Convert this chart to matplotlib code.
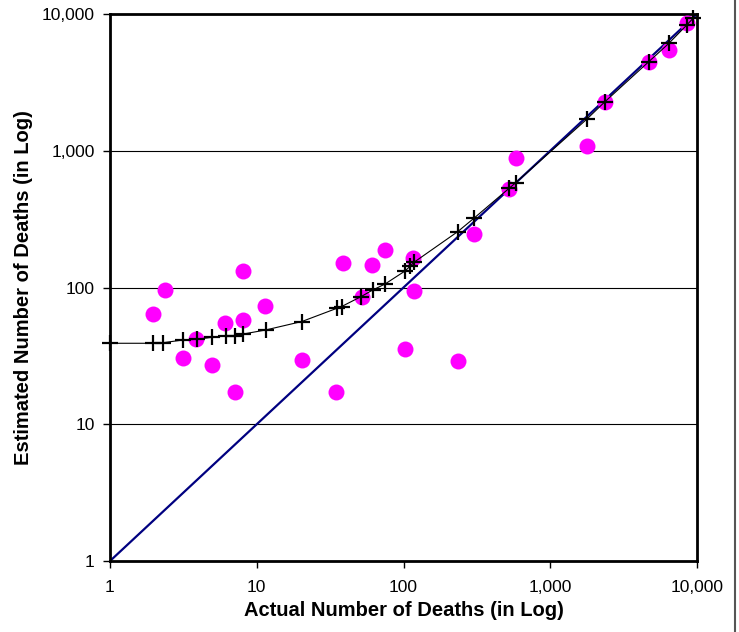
import matplotlib
matplotlib.use("Agg")
import matplotlib.pyplot as plt
from matplotlib.ticker import FixedLocator, FuncFormatter, NullLocator
from matplotlib.lines import Line2D

plt.rcParams['font.family'] = ['Liberation Sans', 'DejaVu Sans']

# actual vs estimated deaths (magenta dots)
actual = [1.95, 2.37, 3.14, 3.85, 4.93, 6.08, 7.1, 8.06, 8.03, 11.4,
          20.3, 34.9, 38.5, 51.9, 60.8, 74.7, 115.5, 118.6, 102, 234,
          302, 524, 582, 1771, 2360, 4690, 6440, 8510]
estimated = [63.7, 96, 30.5, 41.8, 27.1, 55, 17.2, 57.9, 133, 73.2,
             29.7, 17.2, 151, 84.6, 146, 188, 163, 94.8, 35.5, 29.1,
             246, 527, 881, 1090, 2285, 4480, 5470, 8540]

# fitted curve (black crosses)
fit_x = [1, 1.97, 2.31, 3.13, 3.9, 4.93, 6.17, 7.1, 8.1, 11.5,
         20.3, 35.1, 37.9, 51.3, 61.7, 74.8, 102.4, 111.6, 118, 234,
         302, 524, 582, 1771, 2360, 4690, 6440, 8510, 9400]
fit_y = [39.1, 39.1, 39.5, 41.3, 41.8, 43.2, 44.2, 44.2, 45.7, 48.9,
         56.4, 70.4, 72.6, 85.7, 95.9, 106, 132, 144, 153, 256,
         321, 531, 584, 1698, 2285, 4477, 6110, 8300, 9300]

# perfect-estimate reference line
ref = [1, 10000]

fig = plt.figure(figsize=(7.39, 6.32), dpi=100)
ax = fig.add_axes([110/739, 71/632, 587/739, 547/632])

ax.set_xscale('log')
ax.set_yscale('log')
ax.set_xlim(1, 10000)
ax.set_ylim(1, 10000)

for v in [10, 100, 1000]:
    ax.axhline(v, color='black', lw=0.8, zorder=1)

ax.plot(ref, ref, color='#000080', lw=1.6, zorder=2)
ax.plot(actual, estimated, 'o', color='#FF00FF', ms=11.5, mec='none', zorder=3)
ax.plot(fit_x, fit_y, '-', color='black', lw=0.8, zorder=4)
ax.plot(fit_x, fit_y, '+', color='black', ms=11, mew=1.6, zorder=5, clip_on=False)

decades = [1, 10, 100, 1000, 10000]
fmt = FuncFormatter(lambda v, p: f'{int(round(v)):,}')
for axis in (ax.xaxis, ax.yaxis):
    axis.set_major_locator(FixedLocator(decades))
    axis.set_minor_locator(NullLocator())
    axis.set_major_formatter(fmt)

ax.tick_params(axis='both', which='major', direction='out', length=5,
               width=1, labelsize=12.5, color='black')
ax.tick_params(axis='x', pad=9)
ax.tick_params(axis='y', pad=6)

for s in ax.spines.values():
    s.set_linewidth(2)
    s.set_color('black')

ax.set_xlabel('Actual Number of Deaths (in Log)', fontsize=14.5,
              fontweight='bold', labelpad=4)
ax.set_ylabel('Estimated Number of Deaths (in Log)', fontsize=14.5,
              fontweight='bold', labelpad=6)

# image border on the right
fig.add_artist(Line2D([735/739, 735/739], [0, 1], color='#555555', lw=1.5,
                      transform=fig.transFigure))

fig.savefig('out.png', dpi=100)
